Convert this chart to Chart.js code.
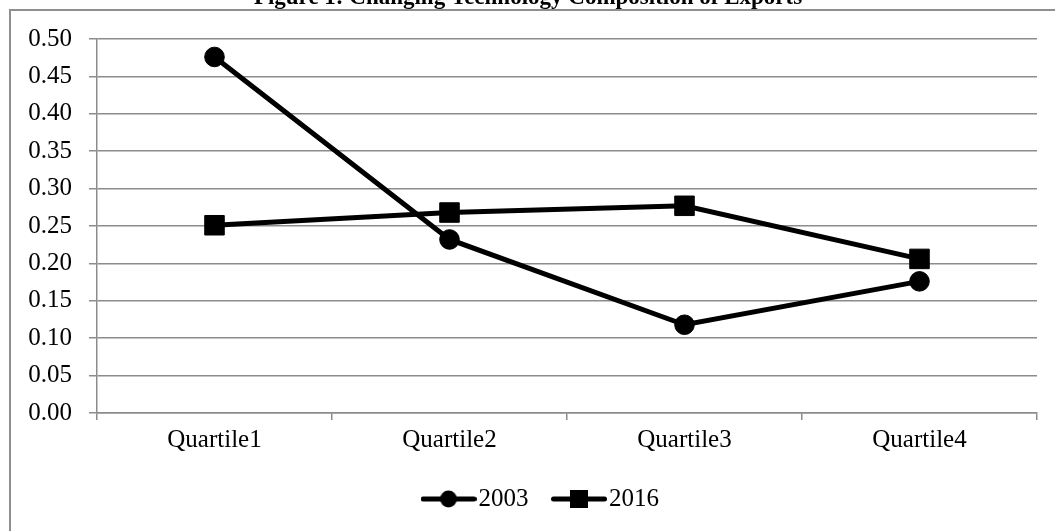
<!DOCTYPE html>
<html>
<head>
<meta charset="utf-8">
<script src="https://cdn.jsdelivr.net/npm/chart.js@4/dist/chart.umd.min.js"></script>
<style>
  html, body { margin: 0; padding: 0; background: #fff; }
  #wrap { width: 1055px; height: 531px; position: relative; overflow: hidden; }
</style>
</head>
<body>
<div id="wrap"><canvas id="c" width="1055" height="531"></canvas></div>
<script>
const titleText = "Figure 1: Changing Technology Composition of Exports";
const categories = ["Quartile1", "Quartile2", "Quartile3", "Quartile4"];
const seriesNames = ["2003", "2016"];
const values2003 = [0.476, 0.232, 0.118, 0.176];
const values2016 = [0.251, 0.268, 0.277, 0.206];
const yTicks = { min: 0, max: 0.5, step: 0.05 };

const FONT = '"Liberation Serif", "Times New Roman", serif';
const GRID = '#8c8c8c';

function legendIcon(kind) {
  const cv = document.createElement('canvas');
  cv.width = 56; cv.height = 22;
  const g = cv.getContext('2d');
  g.strokeStyle = '#000'; g.fillStyle = '#000';
  g.lineWidth = 5; g.lineCap = 'round';
  g.beginPath(); g.moveTo(2.5, 11); g.lineTo(53.5, 11); g.stroke();
  if (kind === 'circle') {
    g.beginPath(); g.arc(28, 11, 8.4, 0, Math.PI * 2); g.fill();
  } else {
    g.fillRect(19, 2, 18, 18);
  }
  return cv;
}
const icons = [legendIcon('circle'), legendIcon('rect')];

const framePlugin = {
  id: 'frame',
  afterLayout(chart) {
    const lg = chart.legend;
    if (lg) { lg.left += 26.5; lg.right += 26.5; }
  },
  beforeDraw(chart) {
    const ctx = chart.ctx;
    ctx.save();
    ctx.fillStyle = '#fff';
    ctx.fillRect(0, 0, chart.width, chart.height);
    ctx.strokeStyle = '#8f8f8f';
    ctx.lineWidth = 2;
    ctx.beginPath();
    ctx.moveTo(10, chart.height + 2);
    ctx.lineTo(10, 10);
    ctx.lineTo(chart.width + 2, 10);
    ctx.stroke();
    ctx.restore();
  },
  afterDraw(chart) {
    const ctx = chart.ctx;
    ctx.save();
    ctx.fillStyle = '#000';
    ctx.font = 'bold 23px ' + FONT;
    ctx.textAlign = 'center';
    ctx.textBaseline = 'alphabetic';
    ctx.fillText(titleText, 528, 4);
    ctx.restore();
  }
};

Chart.defaults.color = '#000';
Chart.defaults.font.family = FONT;
Chart.defaults.font.size = 25;

new Chart(document.getElementById('c'), {
  type: 'line',
  data: {
    labels: categories,
    datasets: [
      {
        label: seriesNames[0],
        data: values2003,
        borderColor: '#000',
        backgroundColor: '#000',
        borderWidth: 5,
        pointStyle: 'circle',
        pointRadius: 9.8,
        pointBorderWidth: 1,
        pointHoverRadius: 9.8,
        tension: 0
      },
      {
        label: seriesNames[1],
        data: values2016,
        borderColor: '#000',
        backgroundColor: '#000',
        borderWidth: 5,
        pointStyle: 'rect',
        pointRadius: 13.8,
        pointBorderWidth: 1,
        pointHoverRadius: 13.8,
        tension: 0
      }
    ]
  },
  options: {
    responsive: false,
    animation: false,
    devicePixelRatio: 1,
    layout: { padding: { left: 0, right: 18, top: 39, bottom: 9.5 } },
    plugins: {
      title: { display: false },
      tooltip: { enabled: false },
      legend: {
        display: true,
        position: 'bottom',
        labels: {
          usePointStyle: true,
          pointStyleWidth: 35,
          padding: 33,
          font: { size: 25, family: FONT },
          color: '#000',
          generateLabels(chart) {
            const base = Chart.defaults.plugins.legend.labels.generateLabels(chart);
            return base.map((l, i) => Object.assign({}, l, { pointStyle: icons[i] }));
          }
        }
      }
    },
    scales: {
      x: {
        type: 'category',
        offset: true,
        grid: {
          display: true,
          offset: true,
          drawOnChartArea: false,
          drawTicks: true,
          tickLength: 7,
          color: GRID,
          lineWidth: 1.5
        },
        border: { display: true, color: GRID, width: 1.5 },
        ticks: { padding: 5, font: { size: 25, family: FONT }, color: '#000', maxRotation: 0 },
        afterFit(scale) { scale.height = 40.5; }
      },
      y: {
        min: yTicks.min,
        max: yTicks.max,
        grid: {
          color: GRID,
          lineWidth: 1.5,
          drawTicks: true,
          tickLength: 8
        },
        border: { display: true, color: GRID, width: 1.5 },
        ticks: {
          stepSize: yTicks.step,
          padding: 17,
          font: { size: 25, family: FONT },
          color: '#000',
          callback: (v) => Number(v).toFixed(2)
        },
        afterFit(scale) { scale.width = 97; }
      }
    }
  },
  plugins: [framePlugin]
});
</script>
</body>
</html>
